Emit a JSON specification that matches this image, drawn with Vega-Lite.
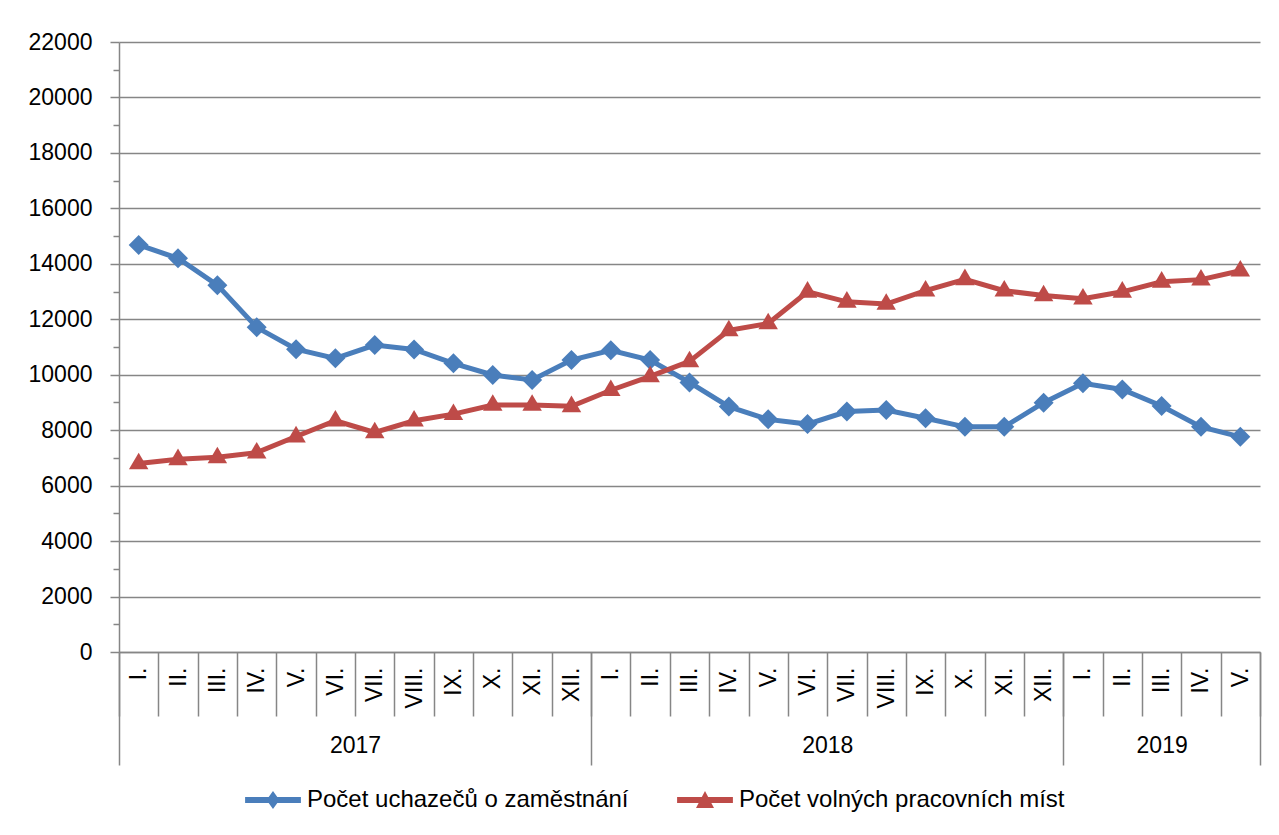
{
  "$schema": "https://vega.github.io/schema/vega-lite/v6.json",
  "autosize": "none",
  "width": 1141,
  "height": 610,
  "padding": {"left": 119, "top": 42, "right": 19, "bottom": 183},
  "background": "white",
  "config": {
    "view": {"stroke": null},
    "font": "Liberation Sans",
    "axis": {
      "labelFont": "Liberation Sans",
      "labelFontSize": 23,
      "labelColor": "#000000",
      "tickColor": "#868686",
      "domainColor": "#868686",
      "gridColor": "#868686",
      "tickWidth": 1.5,
      "domainWidth": 1.5,
      "gridWidth": 1.5
    }
  },
  "data": {
    "values": [
      {"t": 1, "s": "Počet uchazečů o zaměstnání", "v": 14680},
      {"t": 2, "s": "Počet uchazečů o zaměstnání", "v": 14200},
      {"t": 3, "s": "Počet uchazečů o zaměstnání", "v": 13230},
      {"t": 4, "s": "Počet uchazečů o zaměstnání", "v": 11710},
      {"t": 5, "s": "Počet uchazečů o zaměstnání", "v": 10920},
      {"t": 6, "s": "Počet uchazečů o zaměstnání", "v": 10590},
      {"t": 7, "s": "Počet uchazečů o zaměstnání", "v": 11070},
      {"t": 8, "s": "Počet uchazečů o zaměstnání", "v": 10910},
      {"t": 9, "s": "Počet uchazečů o zaměstnání", "v": 10410},
      {"t": 10, "s": "Počet uchazečů o zaměstnání", "v": 9990},
      {"t": 11, "s": "Počet uchazečů o zaměstnání", "v": 9810},
      {"t": 12, "s": "Počet uchazečů o zaměstnání", "v": 10530},
      {"t": 13, "s": "Počet uchazečů o zaměstnání", "v": 10880},
      {"t": 14, "s": "Počet uchazečů o zaměstnání", "v": 10530},
      {"t": 15, "s": "Počet uchazečů o zaměstnání", "v": 9720},
      {"t": 16, "s": "Počet uchazečů o zaměstnání", "v": 8850},
      {"t": 17, "s": "Počet uchazečů o zaměstnání", "v": 8390},
      {"t": 18, "s": "Počet uchazečů o zaměstnání", "v": 8220},
      {"t": 19, "s": "Počet uchazečů o zaměstnání", "v": 8670},
      {"t": 20, "s": "Počet uchazečů o zaměstnání", "v": 8730},
      {"t": 21, "s": "Počet uchazečů o zaměstnání", "v": 8430},
      {"t": 22, "s": "Počet uchazečů o zaměstnání", "v": 8120},
      {"t": 23, "s": "Počet uchazečů o zaměstnání", "v": 8120},
      {"t": 24, "s": "Počet uchazečů o zaměstnání", "v": 8990},
      {"t": 25, "s": "Počet uchazečů o zaměstnání", "v": 9690},
      {"t": 26, "s": "Počet uchazečů o zaměstnání", "v": 9470},
      {"t": 27, "s": "Počet uchazečů o zaměstnání", "v": 8870},
      {"t": 28, "s": "Počet uchazečů o zaměstnání", "v": 8120},
      {"t": 29, "s": "Počet uchazečů o zaměstnání", "v": 7760},
      {"t": 1, "s": "Počet volných pracovních míst", "v": 6800},
      {"t": 2, "s": "Počet volných pracovních míst", "v": 6950},
      {"t": 3, "s": "Počet volných pracovních míst", "v": 7020},
      {"t": 4, "s": "Počet volných pracovních míst", "v": 7190},
      {"t": 5, "s": "Počet volných pracovních míst", "v": 7770},
      {"t": 6, "s": "Počet volných pracovních míst", "v": 8340},
      {"t": 7, "s": "Počet volných pracovních míst", "v": 7920},
      {"t": 8, "s": "Počet volných pracovních míst", "v": 8340},
      {"t": 9, "s": "Počet volných pracovních míst", "v": 8580},
      {"t": 10, "s": "Počet volných pracovních míst", "v": 8910},
      {"t": 11, "s": "Počet volných pracovních míst", "v": 8910},
      {"t": 12, "s": "Počet volných pracovních míst", "v": 8860},
      {"t": 13, "s": "Počet volných pracovních míst", "v": 9440},
      {"t": 14, "s": "Počet volných pracovních míst", "v": 9940},
      {"t": 15, "s": "Počet volných pracovních míst", "v": 10480},
      {"t": 16, "s": "Počet volných pracovních míst", "v": 11600},
      {"t": 17, "s": "Počet volných pracovních míst", "v": 11850},
      {"t": 18, "s": "Počet volných pracovních míst", "v": 12990},
      {"t": 19, "s": "Počet volných pracovních míst", "v": 12630},
      {"t": 20, "s": "Počet volných pracovních míst", "v": 12550},
      {"t": 21, "s": "Počet volných pracovních míst", "v": 13030},
      {"t": 22, "s": "Počet volných pracovních míst", "v": 13440},
      {"t": 23, "s": "Počet volných pracovních míst", "v": 13030},
      {"t": 24, "s": "Počet volných pracovních míst", "v": 12860},
      {"t": 25, "s": "Počet volných pracovních míst", "v": 12740},
      {"t": 26, "s": "Počet volných pracovních míst", "v": 12990},
      {"t": 27, "s": "Počet volných pracovních míst", "v": 13350},
      {"t": 28, "s": "Počet volných pracovních míst", "v": 13430},
      {"t": 29, "s": "Počet volných pracovních míst", "v": 13750}
    ]
  },
  "layer": [
    {
      "mark": {"type": "line", "strokeWidth": 5},
      "encoding": {
        "x": {
          "field": "t", "type": "quantitative", "title": null,
          "scale": {"domain": [0.5, 29.5], "nice": false, "zero": false},
          "axis": {
            "orient": "bottom",
            "values": [0.5,1.5,2.5,3.5,4.5,5.5,6.5,7.5,8.5,9.5,10.5,11.5,12.5,13.5,14.5,15.5,16.5,17.5,18.5,19.5,20.5,21.5,22.5,23.5,24.5,25.5,26.5,27.5,28.5,29.5],
            "labels": false, "ticks": true, "tickSize": 64, "grid": false, "domain": true
          }
        },
        "y": {
          "field": "v", "type": "quantitative", "title": null,
          "scale": {"domain": [0, 22000], "nice": false, "zero": true},
          "axis": {
            "orient": "left",
            "values": [0,2000,4000,6000,8000,10000,12000,14000,16000,18000,20000,22000],
            "format": "d", "tickSize": 9, "labelPadding": 18, "grid": true, "domain": true, "labelFlush": false
          }
        },
        "stroke": {
          "field": "s", "type": "nominal",
          "scale": {"domain": ["Počet volných pracovních míst", "Počet uchazečů o zaměstnání"], "range": ["#BE4B48", "#4A7EBB"]},
          "legend": null
        }
      }
    },
    {
      "transform": [{"filter": "datum.s === 'Počet uchazečů o zaměstnání'"}],
      "mark": {"type": "point", "filled": true, "opacity": 1, "size": 400, "shape": "diamond", "color": "#4A7EBB", "strokeWidth": 0},
      "encoding": {
        "x": {
          "field": "t", "type": "quantitative", "title": null,
          "scale": {"domain": [0.5, 29.5], "nice": false, "zero": false},
          "axis": {
            "orient": "bottom",
            "values": [1,2,3,4,5,6,7,8,9,10,11,12,13,14,15,16,17,18,19,20,21,22,23,24,25,26,27,28,29],
            "labelExpr": "['I.','II.','III.','IV.','V.','VI.','VII.','VIII.','IX.','X.','XI.','XII.'][(datum.value - 1) % 12]",
            "labelAngle": -90, "labelAlign": "right", "labelBaseline": "middle",
            "labelPadding": 15, "ticks": false, "tickSize": 0, "domain": false, "grid": false,
            "labelOverlap": false, "labelFlush": false, "labelBound": false
          }
        },
        "y": {
          "field": "v", "type": "quantitative", "title": null,
          "scale": {"domain": [0, 22000], "nice": false, "zero": true},
          "axis": {
            "orient": "left",
            "values": [1000,3000,5000,7000,9000,11000,13000,15000,17000,19000,21000],
            "labels": false, "tickSize": 6, "grid": false, "domain": false
          }
        }
      }
    },
    {
      "transform": [{"filter": "datum.s === 'Počet volných pracovních míst'"}],
      "mark": {"type": "point", "filled": true, "opacity": 1, "size": 380, "shape": "M0,-1.1L1,0.6L-1,0.6Z", "color": "#BE4B48", "strokeWidth": 0},
      "encoding": {
        "x": {
          "field": "t", "type": "quantitative", "title": null,
          "scale": {"domain": [0.5, 29.5], "nice": false, "zero": false},
          "axis": null
        },
        "y": {
          "field": "v", "type": "quantitative", "title": null,
          "scale": {"domain": [0, 22000], "nice": false, "zero": true},
          "axis": null
        }
      }
    },
    {
      "mark": {"type": "point", "filled": true, "opacity": 0, "size": 10},
      "encoding": {
        "x": {
          "field": "t", "type": "quantitative", "title": null,
          "scale": {"domain": [0.5, 29.5], "nice": false, "zero": false},
          "axis": {
            "orient": "bottom", "values": [0.5, 12.5, 24.5, 29.5],
            "labels": false, "ticks": true, "tickSize": 113, "grid": false, "domain": false
          }
        },
        "y": {"field": "v", "type": "quantitative", "title": null, "scale": {"domain": [0, 22000], "nice": false, "zero": true}, "axis": null},
        "color": {
          "field": "s", "type": "nominal",
          "scale": {"domain": ["Počet uchazečů o zaměstnání", "Počet volných pracovních míst"], "range": ["#4A7EBB", "#BE4B48"]},
          "legend": {
            "title": null, "orient": "none", "legendX": 142, "legendY": 746, "direction": "horizontal",
            "labelFontSize": 24, "labelFont": "Liberation Sans", "labelColor": "#000000",
            "symbolSize": 324, "symbolOpacity": 1, "symbolStrokeWidth": 0, "labelOffset": 22, "columnPadding": 48, "padding": 0, "labelLimit": 600
          }
        },
        "shape": {
          "field": "s", "type": "nominal",
          "scale": {"domain": ["Počet uchazečů o zaměstnání", "Počet volných pracovních míst"], "range": ["M-3.1,-0.33L3.1,-0.33L3.1,0.33L-3.1,0.33Z M0,-1L0.72,0L0,1L-0.72,0Z", "M-3.1,-0.33L3.1,-0.33L3.1,0.33L-3.1,0.33Z M0,-1L1,0.9L-1,0.9Z"]},
          "legend": {
            "title": null, "orient": "none", "legendX": 142, "legendY": 746, "direction": "horizontal",
            "labelFontSize": 24, "labelFont": "Liberation Sans", "labelColor": "#000000",
            "symbolSize": 324, "symbolOpacity": 1, "symbolStrokeWidth": 0, "labelOffset": 22, "columnPadding": 48, "padding": 0, "labelLimit": 600
          }
        }
      }
    },
    {
      "mark": {"type": "point", "opacity": 0, "size": 10},
      "encoding": {
        "x": {
          "field": "t", "type": "quantitative", "title": null,
          "scale": {"domain": [0.5, 29.5], "nice": false, "zero": false},
          "axis": {
            "orient": "bottom", "values": [6.5, 18.5, 27],
            "labelExpr": "datum.value < 12 ? '2017' : datum.value < 24 ? '2018' : '2019'",
            "labelAngle": 0, "labelAlign": "center", "labelBaseline": "top",
            "labelPadding": 82, "ticks": false, "tickSize": 0, "domain": false, "grid": false,
            "labelOverlap": false, "labelFlush": false, "labelBound": false
          }
        },
        "y": {"field": "v", "type": "quantitative", "title": null, "scale": {"domain": [0, 22000], "nice": false, "zero": true}, "axis": null}
      }
    }
  ],
  "resolve": {"axis": {"x": "independent", "y": "independent"}}
}
